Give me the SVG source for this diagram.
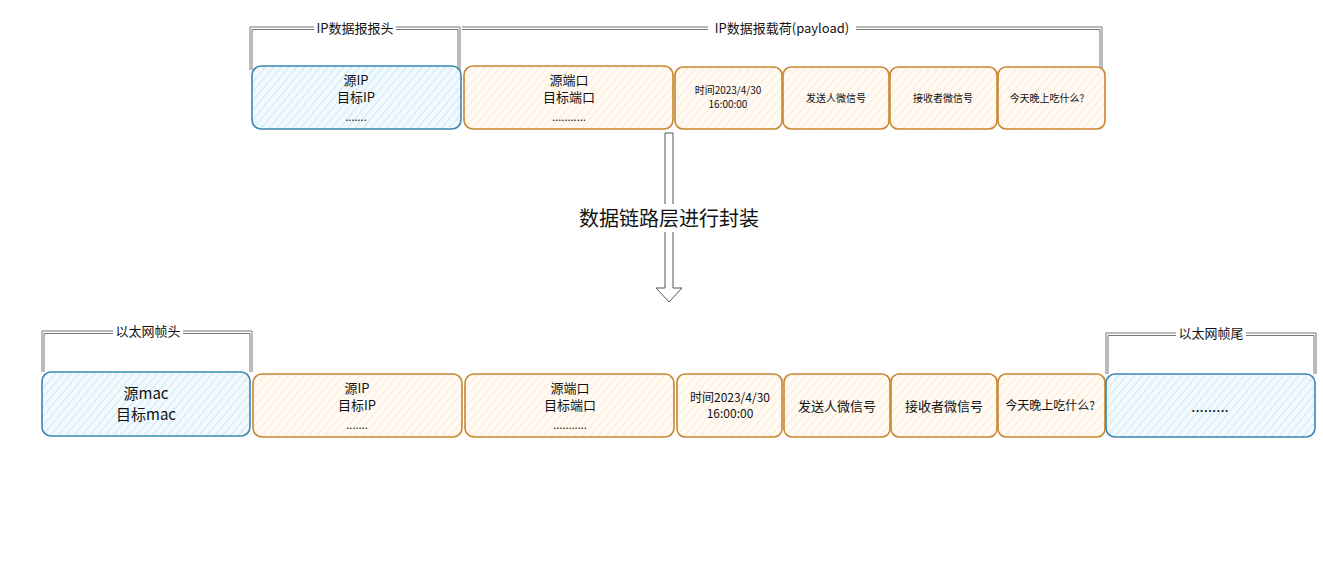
<svg xmlns="http://www.w3.org/2000/svg" width="1323" height="577" viewBox="0 0 1323 577">
<defs>
<pattern id="hb" width="6" height="6" patternUnits="userSpaceOnUse" patternTransform="rotate(40)">
<rect width="6" height="6" fill="#f1f9fd"/>
<line x1="0" y1="0" x2="0" y2="6" stroke="#c2e4f4" stroke-width="1.6"/>
</pattern>
<pattern id="ho" width="6" height="6" patternUnits="userSpaceOnUse" patternTransform="rotate(40)">
<rect width="6" height="6" fill="#fffaf3"/>
<line x1="0" y1="0" x2="0" y2="6" stroke="#ffe6c8" stroke-width="1.6"/>
</pattern>
</defs>
<style>
.b{fill:url(#hb);stroke:#3a86b0;stroke-width:1.6}
.o{fill:url(#ho);stroke:#c9852f;stroke-width:1.6}
text{font-family:"Noto Sans CJK SC","Liberation Sans",sans-serif;fill:#111;text-anchor:middle}
.br{fill:none;stroke:#777;stroke-width:1}
.lb{font-size:13px}
</style>
<rect width="1323" height="577" fill="#fff"/>

<g id="brackets">
<path class="br" d="M250 70V27H460V70M252 70V29.5H458V70"/>
<rect x="314" y="20" width="82" height="16" fill="#fff"/>
<text class="lb" x="355" y="33">IP数据报报头</text>
<path class="br" d="M462 27H1102V70M462 29.5H1100V70"/>
<rect x="708" y="20" width="148" height="16" fill="#fff"/>
<text class="lb" x="782" y="33">IP数据报载荷(payload)</text>
<path class="br" d="M42 372V331H252V372M44 372V333.5H250V372"/>
<rect x="113" y="323" width="70" height="16" fill="#fff"/>
<text class="lb" x="148" y="336">以太网帧头</text>
<path class="br" d="M1106 374V333H1316V374M1108 374V335.5H1314V374"/>
<rect x="1176" y="325" width="70" height="16" fill="#fff"/>
<text class="lb" x="1211" y="338">以太网帧尾</text>
</g>

<g id="top-ip-header"><rect class="b" x="252" y="66" width="209" height="63" rx="9"/>
<text font-size="13" x="356" y="85">源IP</text><text font-size="13" x="356" y="102">目标IP</text><text font-size="11" x="356" y="121">.......</text></g>
<g id="top-port"><rect class="o" x="464" y="66" width="209" height="63" rx="9"/>
<text font-size="13" x="569" y="85">源端口</text><text font-size="13" x="569" y="102">目标端口</text><text font-size="11" x="569" y="121">...........</text></g>
<g id="top-time"><rect class="o" x="675" y="67" width="107" height="62" rx="8"/>
<text font-size="10" x="728" y="94">时间2023/4/30</text><text font-size="10" x="728" y="108">16:00:00</text></g>
<g id="top-sender"><rect class="o" x="783" y="67" width="106" height="62" rx="8"/>
<text font-size="10" x="836" y="102">发送人微信号</text></g>
<g id="top-receiver"><rect class="o" x="890" y="67" width="107" height="62" rx="8"/>
<text font-size="10" x="943" y="102">接收者微信号</text></g>
<g id="top-msg"><rect class="o" x="998" y="67" width="107" height="62" rx="8"/>
<text font-size="10" x="1047" y="102">今天晚上吃什么?</text></g>

<g id="arrow">
<path d="M665 133H673V288H682L669 302L656 288H665Z" fill="#fff" stroke="#555" stroke-width="1"/>
<rect x="568" y="204" width="202" height="28" fill="#fff"/>
<text font-size="20" x="669" y="226">数据链路层进行封装</text>
</g>

<g id="bot-mac"><rect class="b" x="42" y="372" width="208" height="64" rx="9"/>
<text font-size="15" x="146" y="399">源mac</text><text font-size="15" x="146" y="420">目标mac</text></g>
<g id="bot-ip"><rect class="o" x="253" y="374" width="209" height="63" rx="9"/>
<text font-size="13" x="357" y="393">源IP</text><text font-size="13" x="357" y="410">目标IP</text><text font-size="11" x="357" y="429">.......</text></g>
<g id="bot-port"><rect class="o" x="465" y="374" width="209" height="63" rx="9"/>
<text font-size="13" x="570" y="393">源端口</text><text font-size="13" x="570" y="410">目标端口</text><text font-size="11" x="570" y="429">...........</text></g>
<g id="bot-time"><rect class="o" x="677" y="374" width="105" height="63" rx="8"/>
<text font-size="12" x="730" y="402">时间2023/4/30</text><text font-size="12" x="730" y="418">16:00:00</text></g>
<g id="bot-sender"><rect class="o" x="784" y="374" width="106" height="63" rx="8"/>
<text font-size="13" x="837" y="411">发送人微信号</text></g>
<g id="bot-receiver"><rect class="o" x="891" y="374" width="106" height="63" rx="8"/>
<text font-size="13" x="944" y="411">接收者微信号</text></g>
<g id="bot-msg"><rect class="o" x="998" y="374" width="107" height="63" rx="8"/>
<text font-size="12" x="1050" y="410">今天晚上吃什么?</text></g>
<g id="bot-trailer"><rect class="b" x="1106" y="374" width="209" height="63" rx="9"/>
<text font-size="15" x="1210" y="412">.........</text></g>
</svg>
